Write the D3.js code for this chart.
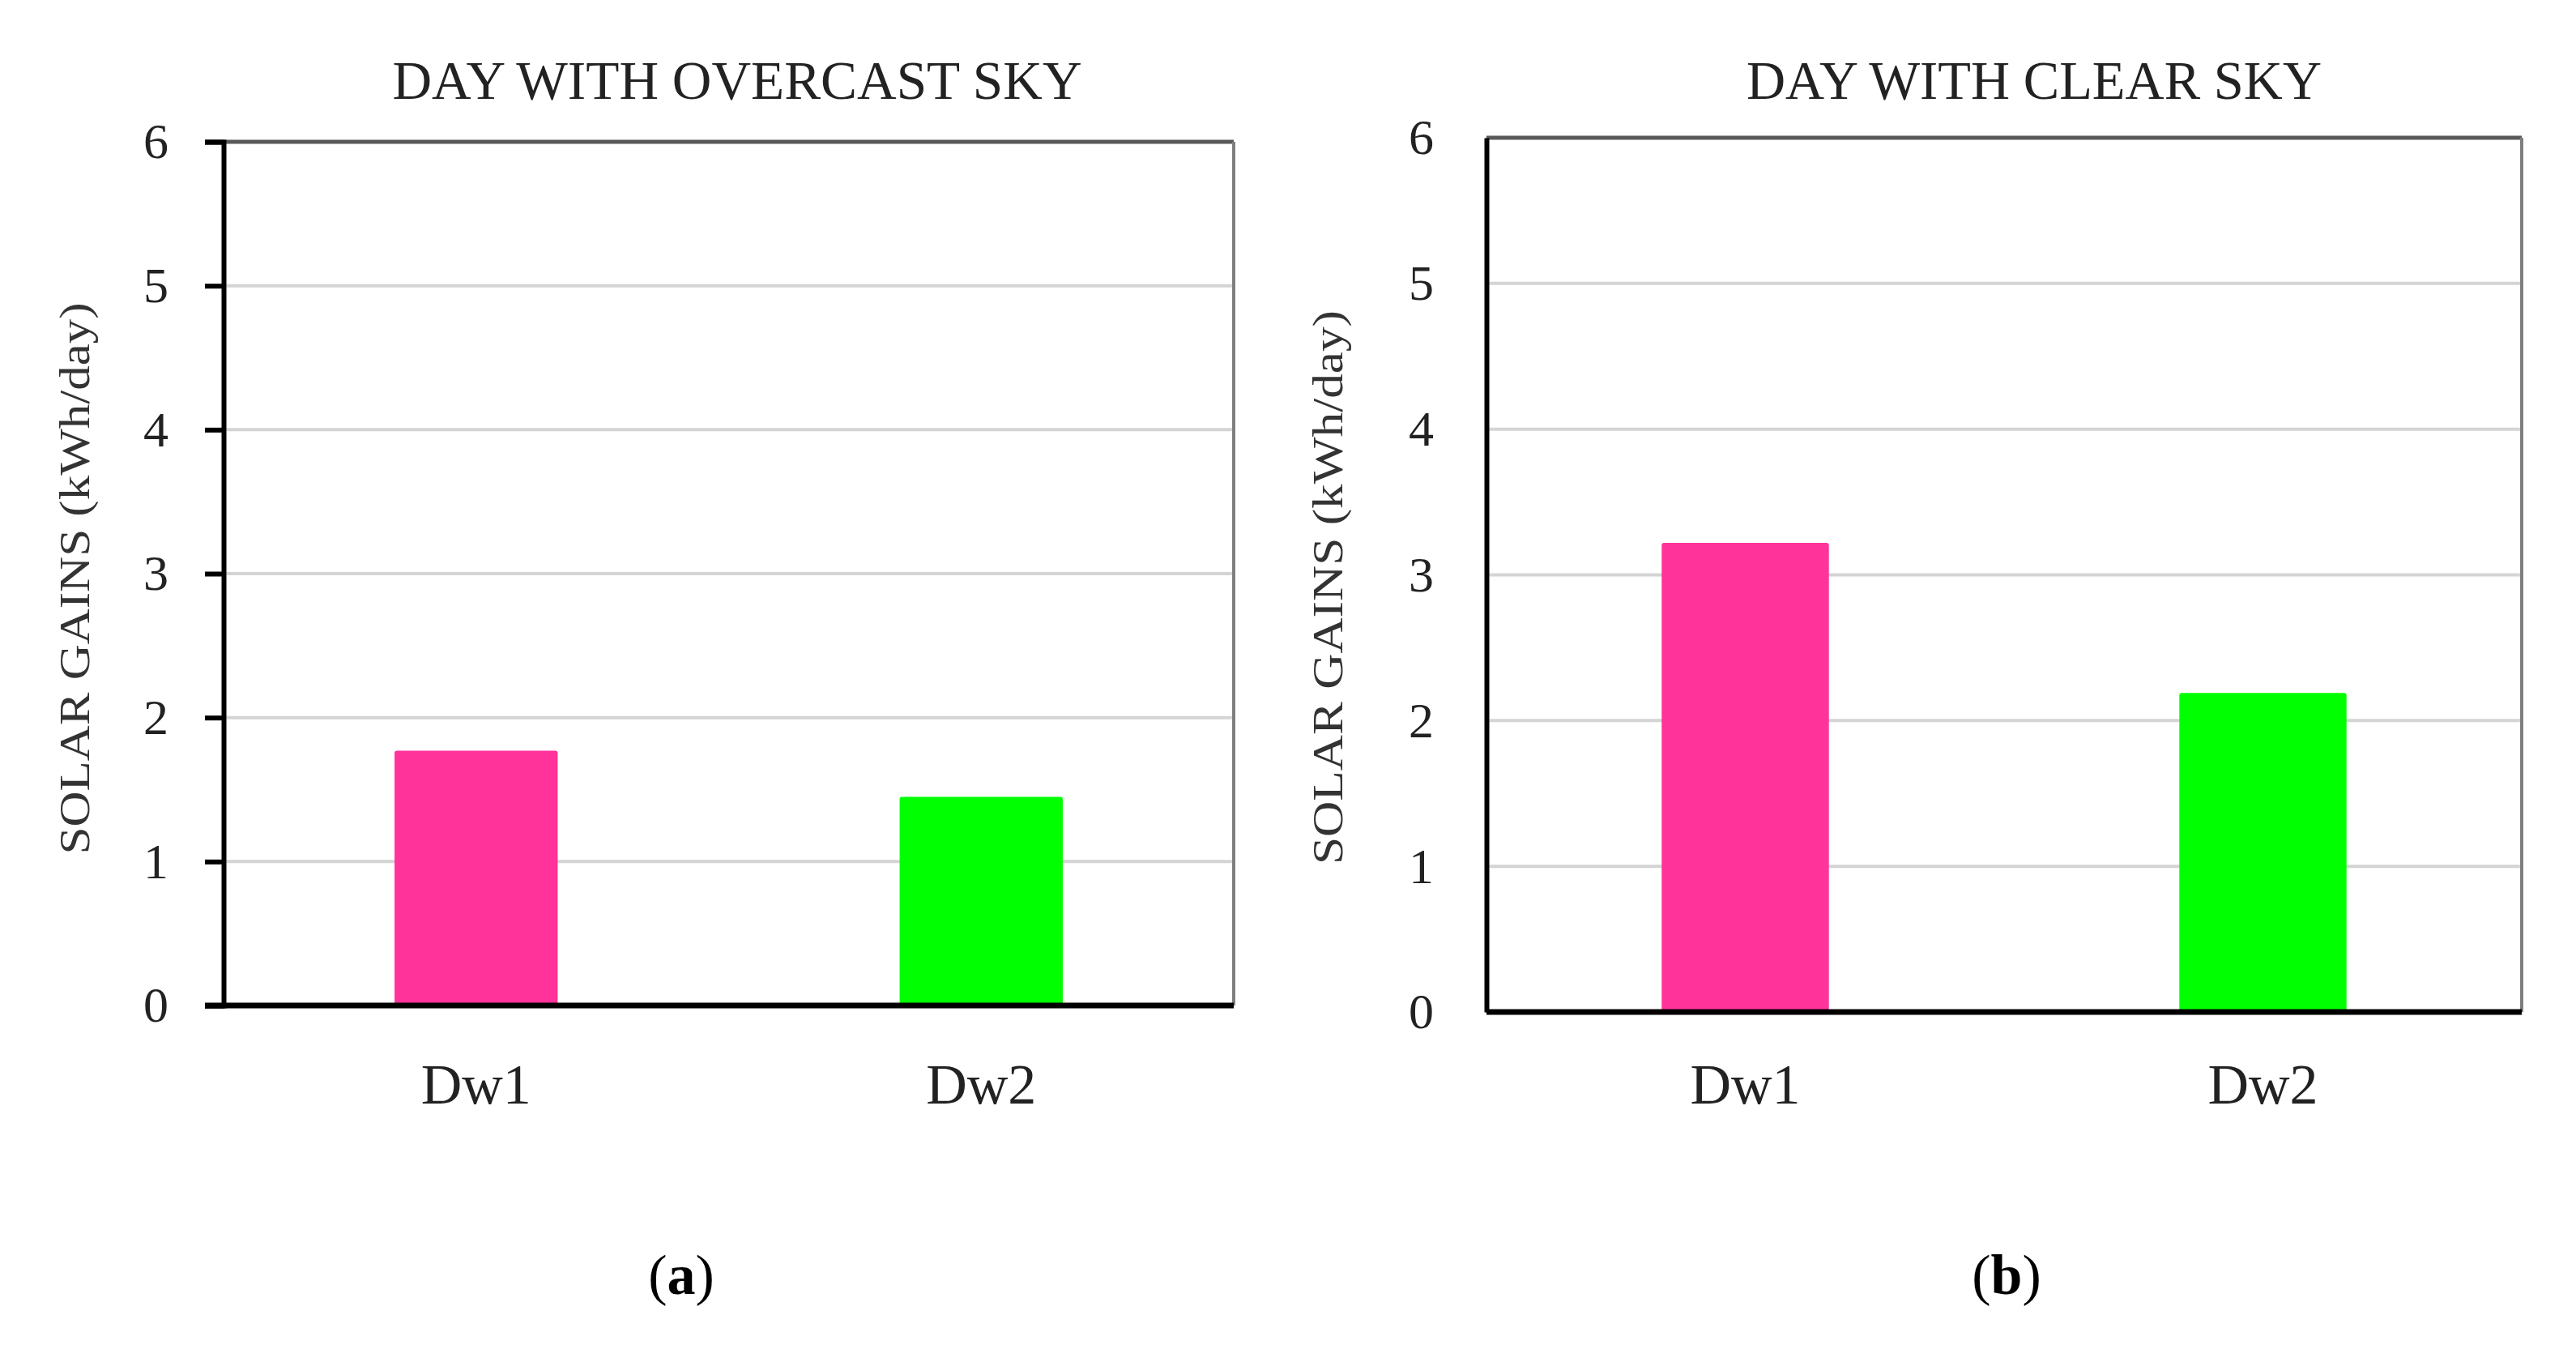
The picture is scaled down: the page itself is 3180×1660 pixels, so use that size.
<!DOCTYPE html>
<html>
<head>
<meta charset="utf-8">
<script src="https://cdn.jsdelivr.net/npm/d3@7/dist/d3.min.js"></script>
<style>
  html, body { margin: 0; padding: 0; background: #ffffff; }
  svg { display: block; }
</style>
</head>
<body>
<svg id="chart" width="3180" height="1660"></svg>
<script>
// ---- data ----
const categories = ["Dw1", "Dw2"];
const overcastValues = [1.77, 1.45];
const clearValues = [3.22, 2.19];
const barColors = ["#FF3399", "#00FF00"];
const yTicks = [0, 1, 2, 3, 4, 5, 6];
const panelTitles = ["DAY WITH OVERCAST SKY", "DAY WITH CLEAR SKY"];
const panelLetters = ["a", "b"];
const yAxisLabel = "SOLAR GAINS (kWh/day)";

const svg = d3.select("#chart");
const FONT = "'Liberation Serif', 'Times New Roman', serif";

const panels = [
  { values: overcastValues, title: panelTitles[0], letter: panelLetters[0],
    x0: 276, x1: 1523, y0: 1241, y1: 175, ticks: true,
    titleX: 910, titleW: 851, ylabX: 94, ylabY: 714, ylabW: 681,
    letterX: 841 },
  { values: clearValues, title: panelTitles[1], letter: panelLetters[1],
    x0: 1835, x1: 3113, y0: 1249, y1: 170, ticks: false,
    titleX: 2511, titleW: 710, ylabX: 1641, ylabY: 725, ylabW: 684,
    letterX: 2477 }
];

panels.forEach(p => {
  const g = svg.append("g");
  const x = d3.scaleBand().domain(categories).range([p.x0, p.x1]).padding(0);
  const y = d3.scaleLinear().domain([0, 6]).range([p.y0, p.y1]);
  const barW = x.bandwidth() * 0.323;

  // gridlines
  g.append("g").selectAll("line.grid")
    .data(yTicks.filter(t => t > 0 && t < 6))
    .join("line")
    .attr("x1", p.x0).attr("x2", p.x1)
    .attr("y1", d => y(d)).attr("y2", d => y(d))
    .attr("stroke", "#d4d4d4").attr("stroke-width", 4);

  // bars
  g.append("g").selectAll("rect")
    .data(p.values)
    .join("rect")
    .attr("x", (d, i) => x(categories[i]) + x.bandwidth() / 2 - barW / 2)
    .attr("width", barW)
    .attr("y", d => y(d))
    .attr("height", d => y(0) - y(d))
    .attr("rx", 3)
    .attr("fill", (d, i) => barColors[i]);

  // plot border: top and right
  g.append("line").attr("x1", p.x0).attr("x2", p.x1).attr("y1", p.y1).attr("y2", p.y1)
    .attr("stroke", "#595959").attr("stroke-width", 5);
  g.append("line").attr("x1", p.x1).attr("x2", p.x1).attr("y1", p.y1).attr("y2", p.y0)
    .attr("stroke", "#7f7f7f").attr("stroke-width", 4);

  // y axis
  const yAxis = d3.axisLeft(y).tickValues(yTicks).tickFormat(d3.format("d"))
    .tickSize(p.ticks ? 23 : 0).tickPadding(p.ticks ? 45 : 65);
  const ya = g.append("g").attr("transform", `translate(${p.x0},0)`).call(yAxis);
  ya.select(".domain").attr("stroke", "#000").attr("stroke-width", 6);
  ya.selectAll(".tick line").attr("stroke", "#000").attr("stroke-width", 6);
  ya.selectAll(".tick text")
    .attr("font-family", FONT).attr("font-size", 62).attr("fill", "#222");

  // baseline (x axis)
  const xAxis = d3.axisBottom(x).tickSize(0).tickPadding(0);
  const xa = g.append("g").attr("transform", `translate(0,${p.y0})`).call(xAxis);
  xa.select(".domain").attr("stroke", "#000").attr("stroke-width", 7)
    .attr("d", `M${p.ticks ? p.x0 - 23 : p.x0},0H${p.x1}`);
  xa.selectAll(".tick text")
    .attr("font-family", FONT).attr("font-size", 70).attr("fill", "#222")
    .attr("dy", null).attr("y", 1362 - p.y0);

  // title
  g.append("text")
    .attr("x", p.titleX).attr("y", 122)
    .attr("text-anchor", "middle")
    .attr("font-family", FONT).attr("font-size", 68).attr("fill", "#222")
    .attr("textLength", p.titleW).attr("lengthAdjust", "spacingAndGlyphs")
    .text(p.title);

  // y label
  g.append("text")
    .attr("transform", `translate(${p.ylabX + 16},${p.ylabY}) rotate(-90)`)
    .attr("text-anchor", "middle")
    .attr("font-family", FONT).attr("font-size", 52).attr("fill", "#333")
    .attr("textLength", p.ylabW).attr("lengthAdjust", "spacingAndGlyphs")
    .text(yAxisLabel);

  // panel letter
  const lt = g.append("text")
    .attr("x", p.letterX).attr("y", 1597)
    .attr("text-anchor", "middle")
    .attr("font-family", FONT).attr("font-size", 70).attr("fill", "#000");
  lt.append("tspan").text("(");
  lt.append("tspan").attr("font-weight", "bold").text(p.letter);
  lt.append("tspan").text(")");
});
</script>
</body>
</html>
